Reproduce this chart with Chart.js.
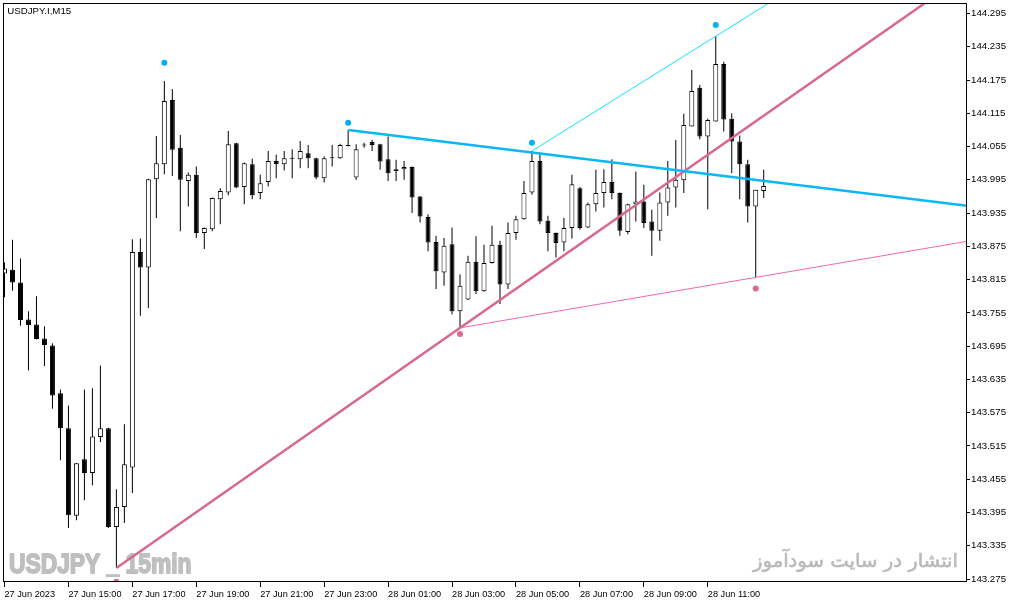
<!DOCTYPE html>
<html><head><meta charset="utf-8">
<script src="https://cdn.jsdelivr.net/npm/chart.js@4.4.0/dist/chart.umd.min.js"></script>
<style>html,body{margin:0;padding:0;background:#fff;overflow:hidden}#wrap{width:1013px;height:604px;position:relative}canvas{display:block}</style>
</head><body><div id="wrap"><canvas id="c" width="1013" height="604"></canvas></div>
<script>
// ---- data (bar index = 15-minute bars from 27 Jun 2023 13:00) ----
const symbolTitle = 'USDJPY.I,M15';
const watermarkLeft = 'USDJPY _ 15min';
const watermarkRight = 'انتشار در سایت سودآموز';
const timeLabels = ['27 Jun 2023','27 Jun 15:00','27 Jun 17:00','27 Jun 19:00','27 Jun 21:00','27 Jun 23:00','28 Jun 01:00','28 Jun 03:00','28 Jun 05:00','28 Jun 07:00','28 Jun 09:00','28 Jun 11:00'];
const timeLabelBars = [0,8,16,24,32,40,48,56,64,72,80,88];
const priceTicks = [143.275,143.335,143.395,143.455,143.515,143.575,143.635,143.695,143.755,143.815,143.875,143.935,143.995,144.055,144.115,144.175,144.235,144.295];

const openP = [143.826,143.833,143.810,143.743,143.734,143.709,143.696,143.610,143.547,143.389,
143.491,143.466,143.531,143.547,143.369,143.405,143.476,143.865,143.837,143.996,
144.023,144.139,144.053,143.993,144.004,143.899,143.906,143.960,143.972,144.061,
143.982,144.023,143.971,143.991,144.029,144.023,144.033,144.032,144.043,144.034,
143.998,144.034,144.034,144.058,143.999,144.057,144.063,144.059,144.032,144.011,
144.014,144.018,143.965,143.928,143.883,143.828,143.879,143.758,143.779,143.847,
143.794,143.845,143.878,143.806,143.899,143.924,143.972,144.029,143.921,143.899,
143.882,143.908,143.980,143.909,143.951,143.971,143.991,143.971,143.901,143.951,
143.956,143.920,143.903,143.954,143.981,143.994,144.091,144.161,144.073,144.100,
144.204,144.105,144.064,144.023,143.947,143.975];
const highP = [143.846,143.887,143.853,143.758,143.785,143.731,143.700,143.617,143.588,143.484,
143.617,143.619,143.660,143.548,143.437,143.554,143.888,143.889,143.997,144.074,
144.173,144.159,144.076,144.008,144.019,143.909,143.963,143.980,144.083,144.062,
144.026,144.033,144.004,144.047,144.040,144.047,144.050,144.065,144.058,144.035,
144.037,144.058,144.060,144.085,144.059,144.062,144.067,144.060,144.073,144.031,
144.029,144.019,143.966,143.933,143.894,143.890,143.909,143.824,143.858,143.893,
143.878,143.912,143.885,143.918,143.930,143.993,144.047,144.044,143.930,143.900,
143.926,144.004,143.982,143.954,144.013,144.014,144.032,143.972,143.952,144.010,
143.986,143.941,143.972,144.029,144.067,144.114,144.193,144.166,144.105,144.254,
144.208,144.115,144.075,144.031,143.977,144.013];
const lowP = [143.783,143.795,143.732,143.651,143.707,143.659,143.582,143.489,143.367,143.381,
143.417,143.444,143.522,143.367,143.295,143.376,143.430,143.750,143.764,143.926,
144.005,144.002,143.902,143.947,143.890,143.870,143.902,143.915,143.967,143.980,
143.951,143.960,143.960,143.983,143.998,144.012,143.998,144.016,144.016,143.996,
143.990,144.019,144.033,144.055,143.995,144.053,144.047,144.013,143.993,143.993,
143.995,143.935,143.918,143.866,143.798,143.804,143.752,143.728,143.778,143.789,
143.793,143.844,143.771,143.798,143.887,143.923,143.968,143.915,143.866,143.855,
143.866,143.889,143.905,143.908,143.938,143.945,143.960,143.894,143.897,143.920,
143.908,143.858,143.885,143.930,143.945,143.971,144.091,144.068,143.942,144.100,
144.082,144.007,143.960,143.918,143.819,143.962];
const closeP = [143.835,143.810,143.742,143.733,143.708,143.697,143.606,143.547,143.390,143.484,
143.466,143.532,143.547,143.369,143.405,143.482,143.865,143.837,143.996,144.025,
144.137,144.049,143.995,144.004,143.899,143.908,143.962,143.975,144.059,143.981,
144.025,143.967,143.989,144.029,144.023,144.034,144.034,144.047,144.034,143.999,
144.034,144.035,144.058,144.056,144.050,144.058,144.058,144.028,144.007,144.014,
144.018,143.963,143.929,143.882,143.830,143.876,143.758,143.804,143.847,143.794,
143.845,143.878,143.806,143.899,143.924,143.971,144.029,143.920,143.899,143.881,
143.908,143.987,143.908,143.951,143.971,143.991,143.971,143.903,143.951,143.956,
143.917,143.903,143.954,143.981,143.995,144.094,144.155,144.073,144.103,144.204,
144.104,144.064,144.023,143.947,143.977,143.984];

// trend lines: anchor [bar, price] pairs (rays extended to the right)
const resistanceLine = [[43,144.085],[94,143.995]];
const upperChannel = [[66,144.047],[89,144.254]];
const supportLine = [[14,143.295],[57,143.728]];
const lowerChannel = [[57,143.728],[94,143.819]];
// swing markers
const swingHighBars = [20,43,66,89];
const swingHighPrices = [144.206,144.098,144.062,144.274];
const swingLowBars = [14,57,94];
const swingLowPrices = [143.270,143.717,143.799];

// ---- build ----
const X_MIN = -0.0625, X_MAX = 120.4375, Y_MIN = 143.2696, Y_MAX = 144.3121;
function ray(a, b){
  const s = (b[1]-a[1])/(b[0]-a[0]);
  const xe = 140;
  return [{x:a[0], y:a[1]}, {x:xe, y:a[1] + s*(xe-a[0])}];
}
const wickData = openP.map((_,i)=>({x:i, y:[lowP[i], highP[i]]}));
const bodyData = openP.map((o,i)=>({x:i, y:[o, closeP[i]]}));
const bodyFill = openP.map((o,i)=> closeP[i] >= o ? '#ffffff' : '#000000');
const labelMap = {}; timeLabelBars.forEach((b,k)=>labelMap[b]=timeLabels[k]);

const overlay = {
  id:'overlay',
  beforeDatasetsDraw(chart){
    const ctx = chart.ctx;
    ctx.save();
    ctx.fillStyle = '#bfbfbf'; ctx.strokeStyle = '#bfbfbf';
    ctx.textBaseline = 'alphabetic';
    ctx.font = 'bold 28px "Liberation Sans", Arial, sans-serif';
    let w = ctx.measureText(watermarkLeft).width;
    ctx.translate(9, 572.5); ctx.scale(182.5/w, 1);
    ctx.textAlign = 'left';
    ctx.lineWidth = 1.8; ctx.lineJoin = 'round';
    ctx.fillText(watermarkLeft, 0, 0);
    ctx.strokeText(watermarkLeft, 0, 0);
    ctx.restore();
    ctx.save();
    ctx.fillStyle = '#bababa'; ctx.strokeStyle = '#bababa';
    ctx.font = '19px "DejaVu Sans", sans-serif';
    ctx.textBaseline = 'alphabetic';
    ctx.textAlign = 'right';
    w = ctx.measureText(watermarkRight).width;
    ctx.translate(958, 567); ctx.scale(205/w, 1);
    ctx.lineWidth = 0.6;
    ctx.fillText(watermarkRight, 0, 0);
    ctx.strokeText(watermarkRight, 0, 0);
    ctx.restore();
  },
  afterDraw(chart){
    const {ctx, chartArea:a} = chart;
    ctx.save();
    ctx.strokeStyle = '#000'; ctx.lineWidth = 1;
    ctx.strokeRect(a.left-0.5, a.top-0.5, a.right-a.left, a.bottom-a.top);
    ctx.fillStyle = '#000';
    ctx.font = '9.7px "Liberation Sans", Arial, sans-serif';
    ctx.textAlign = 'left'; ctx.textBaseline = 'alphabetic';
    ctx.fillText(symbolTitle, 7.3, 14.3);
    ctx.restore();
  }
};

const barCommon = {type:'bar', grouped:false, inflateAmount:0, clip:0, minBarLength:1, borderSkipped:false};
new Chart(document.getElementById('c'), {
  type:'bar',
  data:{datasets:[
    Object.assign({}, barCommon, {label:'wick', data:wickData, backgroundColor:'#000', borderWidth:0, barThickness:1, order:5}),
    Object.assign({}, barCommon, {label:'body', data:bodyData, backgroundColor:bodyFill, borderColor:'#000', borderWidth:1, barThickness:5, order:4}),
    {type:'line', label:'support', data:ray(supportLine[0], supportLine[1]), borderColor:'#d8688f', borderWidth:2.5, pointRadius:0, clip:0, order:3},
    {type:'line', label:'lower', data:ray(lowerChannel[0], lowerChannel[1]), borderColor:'#f266b2', borderWidth:1, pointRadius:0, clip:0, order:3},
    {type:'line', label:'upper', data:ray(upperChannel[0], upperChannel[1]), borderColor:'#10e6ff', borderWidth:1, pointRadius:0, clip:0, order:3},
    {type:'line', label:'resistance', data:ray(resistanceLine[0], resistanceLine[1]), borderColor:'#08b8f4', borderWidth:2.5, pointRadius:0, clip:0, order:2},
    {type:'line', label:'highs', data:swingHighBars.map((b,k)=>({x:b, y:swingHighPrices[k]})), showLine:false, pointRadius:3, pointBorderWidth:0, pointBackgroundColor:'#0aaef0', clip:0, order:1},
    {type:'line', label:'lows', data:swingLowBars.map((b,k)=>({x:b, y:swingLowPrices[k]})), showLine:false, pointRadius:3, pointBorderWidth:0, pointBackgroundColor:'#d96a8e', clip:0, order:1}
  ]},
  options:{
    responsive:false, devicePixelRatio:1, animation:false, events:[],
    layout:{padding:{left:3, top:3, right:0, bottom:0}},
    plugins:{legend:{display:false}, tooltip:{enabled:false}, title:{display:false}},
    scales:{
      x:{type:'linear', min:X_MIN, max:X_MAX, offset:false, position:'bottom',
        grid:{drawOnChartArea:false, drawTicks:true, tickLength:5, color:'#000', offset:false},
        border:{display:false},
        ticks:{autoSkip:false, maxRotation:0, minRotation:0, align:'start', padding:2, color:'#000',
          font:{family:'"Liberation Sans", Arial, sans-serif', size:9.2},
          callback:(v)=> labelMap[v] !== undefined ? labelMap[v] : ''},
        afterBuildTicks:(s)=>{ s.ticks = timeLabelBars.map(v=>({value:v})); },
        afterFit:(s)=>{ s.height = 22; s.paddingLeft=0; s.paddingRight=0; s.paddingTop=0; s.paddingBottom=0; }
      },
      y:{type:'linear', position:'right', min:Y_MIN, max:Y_MAX,
        grid:{drawOnChartArea:false, drawTicks:true, tickLength:3, color:'#000'},
        border:{display:false},
        ticks:{padding:1, color:'#000', font:{family:'"Liberation Sans", Arial, sans-serif', size:9.7},
          callback:(v)=> Number(v).toFixed(3)},
        afterBuildTicks:(s)=>{ s.ticks = priceTicks.map(v=>({value:v})); },
        afterFit:(s)=>{ s.width = 46; s.paddingLeft=0; s.paddingRight=0; s.paddingTop=0; s.paddingBottom=0; }
      }
    }
  },
  plugins:[overlay]
});
</script>
</body></html>
